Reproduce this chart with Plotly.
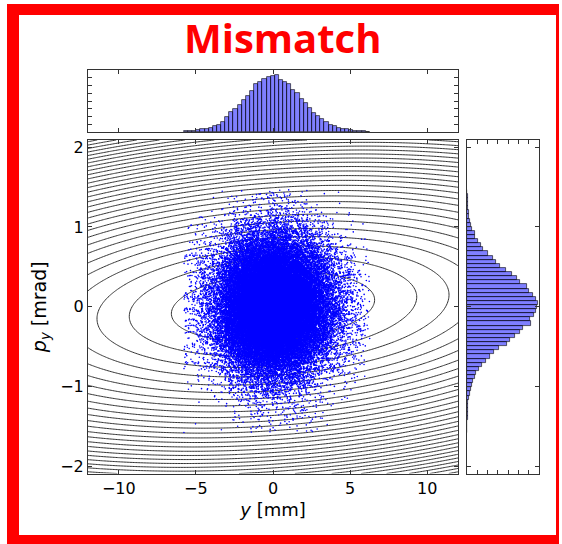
import numpy as np
import plotly.graph_objects as go

# ---------------- data ----------------
# horizontal histogram (top): y [mm]
Y_BIN_START = -5.78
Y_BIN_WIDTH = 0.268
Y_COUNTS = [52, 52, 68, 104, 152, 172, 224, 292, 376, 512, 772, 1028, 1200, 1404,
            1660, 1884, 2140, 2480, 2568, 2736, 2856, 2908, 2944, 2704, 2568, 2480,
            2192, 2000, 1712, 1504, 1232, 992, 804, 652, 512, 376, 292, 224, 172,
            136, 104, 68, 52, 36, 16]

# vertical histogram (right): p_y [mrad], bins listed from top to bottom
PY_BIN_TOP = 1.467
PY_BIN_WIDTH = 0.0516
PY_COUNTS = [12, 24, 24, 24, 36, 56, 80, 116, 148, 184, 272, 264, 364, 492, 548,
             708, 900, 1004, 1128, 1344, 1552, 1712, 1824, 2064, 2120, 2256, 2348,
             2440, 2396, 2348, 2304, 2144, 2188, 1916, 1800, 1652, 1460, 1368, 1084,
             912, 800, 660, 512, 412, 320, 264, 204, 172, 136, 92, 68, 44, 36, 24,
             24, 24, 12, 12, 12]

# Courant-Snyder ellipse parameters of the contour lines
ALPHA = -0.2
BETA = 15.3      # mm/mrad
EMIT = 2.84      # level spacing
N_LEVELS = 60

X_TICKS = [-10, -5, 0, 5, 10]
Y_TICKS = [-2, -1, 0, 1, 2]
X_RANGE = [-12, 12]
Y_RANGE = [-2.09, 2.09]

# ---------------- derived ----------------
y_centers = [Y_BIN_START + (i + 0.5) * Y_BIN_WIDTH for i in range(len(Y_COUNTS))]
py_centers = [PY_BIN_TOP - (j + 0.5) * PY_BIN_WIDTH for j in range(len(PY_COUNTS))]


def expand(lows, width, counts):
    vals = []
    for lo, c in zip(lows, counts):
        for k in range(c):
            vals.append(lo + (k + 0.5) / c * width)
    return np.sort(np.array(vals))


y_vals = expand([c - Y_BIN_WIDTH / 2 for c in y_centers], Y_BIN_WIDTH, Y_COUNTS)
py_vals = expand([c - PY_BIN_WIDTH / 2 for c in py_centers], PY_BIN_WIDTH, PY_COUNTS)
n = min(len(y_vals), len(py_vals))
y_vals = y_vals[np.linspace(0, len(y_vals) - 1, n).round().astype(int)]
py_vals = py_vals[np.linspace(0, len(py_vals) - 1, n).round().astype(int)]
# deterministic pairing of the two marginals (quadratic Weyl ordering)
i = np.arange(n, dtype=np.float64)
frac = (i * i * np.sqrt(2.0) + i * 0.6180339887498949) % 1.0
rank = np.argsort(np.argsort(frac))
py_paired = py_vals[rank]

GAMMA = (1 + ALPHA ** 2) / BETA
gx = np.linspace(X_RANGE[0], X_RANGE[1], 241)
gy = np.linspace(Y_RANGE[0], Y_RANGE[1], 211)
GX, GY = np.meshgrid(gx, gy)
Z = (GAMMA * GX ** 2 + 2 * ALPHA * GX * GY + BETA * GY ** 2) / EMIT

W, H = 562, 544
def px(x):
    return x / W
def py_(y):
    return 1 - y / H

fig = go.Figure()
fig.add_trace(go.Contour(
    x=gx, y=gy, z=Z, xaxis="x", yaxis="y",
    contours=dict(start=1, end=N_LEVELS, size=1, coloring="lines"),
    colorscale=[[0, "#333333"], [1, "#333333"]], showscale=False,
    line=dict(width=1), hoverinfo="skip"))
fig.add_trace(go.Scatter(
    x=y_vals, y=py_paired, mode="markers", xaxis="x", yaxis="y",
    marker=dict(size=1.6, color="blue", line=dict(width=0)), hoverinfo="skip"))
fig.add_trace(go.Bar(
    x=y_centers, y=Y_COUNTS, width=Y_BIN_WIDTH, xaxis="x2", yaxis="y2",
    marker=dict(color="rgba(0,0,255,0.5)", line=dict(color="rgba(0,0,0,0.75)", width=0.8))))
fig.add_trace(go.Bar(
    y=py_centers, x=PY_COUNTS, width=PY_BIN_WIDTH, orientation="h",
    xaxis="x3", yaxis="y3",
    marker=dict(color="rgba(0,0,255,0.5)", line=dict(color="rgba(0,0,0,0.75)", width=0.8))))

axis_common = dict(showline=True, linecolor="#333333", linewidth=1, mirror="ticks",
                   ticks="inside", ticklen=4, tickcolor="#333333", showgrid=False,
                   zeroline=False, automargin=False,
                   tickfont=dict(family="DejaVu Sans", size=16, color="black"))

main_x = [px(88), px(458)]
main_y = [py_(473.5), py_(140)]

fig.update_layout(
    width=W, height=H, margin=dict(l=0, r=0, t=0, b=0),
    paper_bgcolor="white", plot_bgcolor="white", showlegend=False,
    bargap=0,
    xaxis=dict(domain=main_x, range=X_RANGE, tickvals=X_TICKS,
               ticktext=["\u221210", "\u22125", "0", "5", "10"],
               title=dict(text="<i>y</i> [mm]", standoff=6,
                          font=dict(family="DejaVu Sans", size=18, color="black")),
               anchor="y", **axis_common),
    yaxis=dict(domain=main_y, range=Y_RANGE, tickvals=Y_TICKS,
               ticktext=["\u22122", "\u22121", "0", "1", "2"],
               title=dict(text="<i>p<sub>y</sub></i> [mrad]", standoff=8,
                          font=dict(family="DejaVu Sans", size=19, color="black")),
               anchor="x", **axis_common),
    xaxis2=dict(domain=main_x, range=X_RANGE, tickvals=X_TICKS, showticklabels=False,
                anchor="y2", **axis_common),
    yaxis2=dict(domain=[py_(132), py_(70)], range=[0, 3200], dtick=400,
                showticklabels=False, anchor="x2", **axis_common),
    xaxis3=dict(domain=[px(467), px(539)], range=[0, 2464], dtick=352,
                showticklabels=False, anchor="y3", **axis_common),
    yaxis3=dict(domain=main_y, range=Y_RANGE, tickvals=Y_TICKS, showticklabels=False,
                anchor="x3", **axis_common),
    shapes=[
        dict(type="rect", xref="paper", yref="paper", x0=px(7), x1=px(19),
             y0=0, y1=py_(4), fillcolor="red", line=dict(width=0)),
        dict(type="rect", xref="paper", yref="paper", x0=px(7), x1=px(559),
             y0=py_(15), y1=py_(4), fillcolor="red", line=dict(width=0)),
        dict(type="rect", xref="paper", yref="paper", x0=px(7), x1=px(559),
             y0=0, y1=py_(535), fillcolor="red", line=dict(width=0)),
        dict(type="rect", xref="paper", yref="paper", x0=px(556), x1=px(559),
             y0=0, y1=py_(4), fillcolor="red", line=dict(width=0)),
    ],
    annotations=[dict(text="<b>Mismatch</b>", x=px(282), y=py_(38), xref="paper",
                      yref="paper", xanchor="center", yanchor="middle", showarrow=False,
                      font=dict(family="Open Sans", size=40, color="red"))],
)

fig.write_html("out.html")
